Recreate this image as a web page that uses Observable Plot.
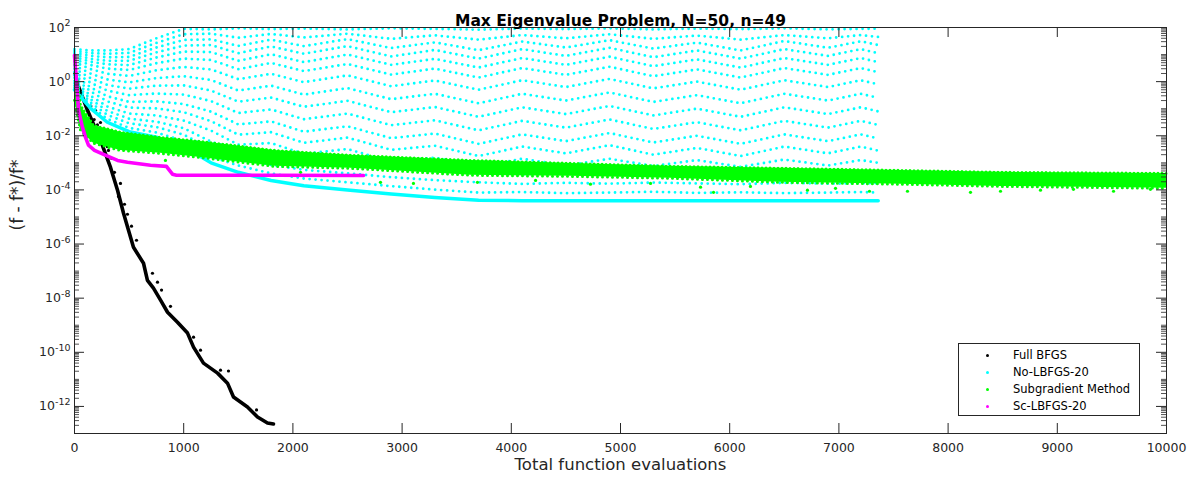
<!DOCTYPE html>
<html><head><meta charset="utf-8">
<script src="https://cdn.jsdelivr.net/npm/d3@7"></script>
<script src="https://cdn.jsdelivr.net/npm/@observablehq/plot@0.6"></script>
<style>
body{margin:0;background:#fff;font-family:"DejaVu Sans",sans-serif;}
#wrap{position:relative;width:1198px;height:485px;}
#legend{position:absolute;left:958px;top:343px;width:182px;height:73px;border:1px solid #262626;background:#fff;box-sizing:border-box;font-size:11.5px;color:#000;}
.item{position:absolute;left:0;width:100%;height:17px;}
.dot{position:absolute;left:27px;top:7px;width:3px;height:3px;border-radius:50%;}
.lab{position:absolute;left:54px;top:0;line-height:17px;white-space:nowrap;}
</style></head><body><div id="wrap"><div id="legend"></div></div>
<script>
// ---------- data (x = total function evaluations, values as log10 of (f-f*)/f*) ----------
const titleText = "Max Eigenvalue Problem, N=50, n=49";
const xLabel = "Total function evaluations";
const yLabel = "(f - f*)/f*";
const seriesNames = ["Full BFGS", "No-LBFGS-20", "Subgradient Method", "Sc-LBFGS-20"];
const seriesColors = ["#000000", "#00ffff", "#00ff00", "#ff00ff"];
const xTicks = [0, 1000, 2000, 3000, 4000, 5000, 6000, 7000, 8000, 9000, 10000];
const yTickExps = [2, 0, -2, -4, -6, -8, -10, -12];

// Full BFGS (black)
const bfgsEvals = [5, 27, 119, 238, 330, 394, 449, 540, 632, 668, 723, 788, 852, 943, 1035, 1090, 1181, 1310, 1401, 1456, 1584, 1676, 1767, 1822];
const bfgsExp   = [0.3, -0.07, -1.06, -2.17, -3.17, -4.01, -4.86, -6.12, -6.71, -7.34, -7.63, -8.07, -8.52, -8.89, -9.29, -9.81, -10.40, -10.77, -11.14, -11.65, -12.02, -12.39, -12.61, -12.65];
const bfgsOutEvals = [192, 238, 275, 266, 311, 339, 366, 421, 403, 458, 485, 522, 568, 714, 760, 797, 879, 1090, 1154, 1337, 1410, 1667, 150, 210, 180, 250, 300];
const bfgsOutExp   = [-1.06, -1.51, -1.87, -2.24, -2.54, -2.83, -3.35, -3.76, -4.24, -4.53, -4.90, -5.34, -5.86, -7.08, -7.41, -7.70, -8.30, -9.44, -9.92, -10.66, -10.69, -12.13, -0.9, -1.6, -1.4, -2.0, -2.4];

// Sc-LBFGS-20 (magenta)
const scEvals = [0, 9, 27, 37, 73, 101, 128, 183, 266, 394, 485, 696, 842, 870, 897, 934, 1832, 2647];
const scExp   = [0.97, 0.49, -0.44, -1.06, -1.69, -2.06, -2.35, -2.54, -2.69, -2.91, -2.98, -3.09, -3.13, -3.28, -3.42, -3.46, -3.46, -3.47];

// Subgradient method (green): band of points, upper and lower edge
const subEvals  = [0, 55, 174, 421, 788, 1154, 1832, 2527, 3626, 4542, 5458, 6465, 7564, 8480, 10000];
const subTopExp = [0.78, -0.88, -1.62, -1.87, -2.06, -2.21, -2.54, -2.72, -2.91, -3.02, -3.13, -3.20, -3.28, -3.35, -3.39];
const subBotExp = [-0.69, -1.80, -2.28, -2.54, -2.65, -2.80, -3.13, -3.20, -3.46, -3.50, -3.57, -3.72, -3.79, -3.87, -3.94];
const subOutEvals = [833, 2070, 2802, 3104, 3690, 4222, 4725, 5275, 5733, 5852, 6190, 6712, 6969, 7280, 7628, 8205, 8480, 8846, 9148, 9515, 9853];
const subOutExp   = [-2.91, -3.35, -3.72, -3.76, -3.72, -3.65, -3.79, -3.76, -3.90, -4.09, -3.87, -4.01, -3.94, -4.05, -4.05, -4.09, -4.05, -4.01, -3.98, -4.05, -3.98];

// No-LBFGS-20 (cyan): rows of trial points read at these evaluation counts
const noEvals = [0, 150, 300, 500, 750, 1000, 1250, 1500, 1800, 2100, 2500, 2900, 3300, 3700, 4100, 4500, 4900, 5300, 5700, 6100, 6500, 6900, 7200, 7360];
const noLowerExp = [-0.3, -1.0, -1.5, -1.85, -2.05, -2.4, -3.0, -3.35, -3.65, -3.85, -4.0, -4.15, -4.28, -4.38, -4.4, -4.4, -4.4, -4.4, -4.4, -4.4, -4.4, -4.4, -4.4, -4.4];
const noRowsExp = [
  [1.2, 1.15, 1.15, 1.2, 1.6, 1.95, 1.93, 1.97, 1.94, 1.96, 1.93, 1.97, 1.95, 1.92, 1.96, 1.94, 1.97, 1.93, 1.96, 1.94, 1.97, 1.93, 1.95, 1.96],
  [1.13, 1.05, 1.03, 1.06, 1.43, 1.75, 1.77, 1.62, 1.76, 1.63, 1.77, 1.58, 1.71, 1.55, 1.72, 1.60, 1.75, 1.58, 1.70, 1.55, 1.72, 1.60, 1.72, 1.65],
  [1.06, 0.95, 0.90, 0.91, 1.26, 1.54, 1.56, 1.32, 1.55, 1.31, 1.57, 1.24, 1.45, 1.16, 1.48, 1.26, 1.53, 1.22, 1.44, 1.15, 1.50, 1.25, 1.49, 1.35],
  [0.99, 0.84, 0.77, 0.77, 1.08, 1.33, 1.35, 1.05, 1.30, 1.03, 1.31, 0.93, 1.17, 0.85, 1.20, 0.95, 1.25, 0.90, 1.15, 0.85, 1.20, 0.95, 1.20, 1.05],
  [0.91, 0.73, 0.64, 0.61, 0.89, 1.11, 1.09, 0.77, 1.01, 0.72, 1.00, 0.62, 0.84, 0.52, 0.87, 0.62, 0.92, 0.57, 0.82, 0.52, 0.87, 0.62, 0.87, 0.72],
  [0.82, 0.61, 0.48, 0.43, 0.68, 0.85, 0.80, 0.46, 0.69, 0.39, 0.65, 0.26, 0.48, 0.15, 0.50, 0.25, 0.55, 0.20, 0.45, 0.15, 0.50, 0.25, 0.50, 0.35],
  [0.72, 0.46, 0.29, 0.21, 0.42, 0.54, 0.45, 0.09, 0.29, -0.02, 0.23, -0.17, 0.04, -0.30, 0.05, -0.20, 0.10, -0.25, 0.00, -0.30, 0.05, -0.20, 0.05, -0.10],
  [0.60, 0.29, 0.08, -0.03, 0.13, 0.20, 0.06, -0.33, -0.15, -0.48, -0.24, -0.65, -0.45, -0.80, -0.45, -0.70, -0.40, -0.75, -0.50, -0.80, -0.45, -0.70, -0.45, -0.60],
  [0.48, 0.12, -0.12, -0.26, -0.15, -0.14, -0.33, -0.74, -0.59, -0.93, -0.71, -1.13, -0.94, -1.30, -0.95, -1.20, -0.90, -1.25, -1.00, -1.30, -0.95, -1.20, -0.95, -1.10],
  [0.36, -0.05, -0.33, -0.50, -0.44, -0.48, -0.72, -1.16, -1.03, -1.39, -1.18, -1.61, -1.43, -1.80, -1.45, -1.70, -1.40, -1.75, -1.50, -1.80, -1.45, -1.70, -1.45, -1.60],
  [0.24, -0.22, -0.54, -0.75, -0.73, -0.83, -1.11, -1.58, -1.47, -1.85, -1.65, -2.09, -1.92, -2.30, -1.95, -2.20, -1.90, -2.25, -2.00, -2.30, -1.95, -2.20, -1.95, -2.10],
  [0.14, -0.37, -0.73, -0.96, -0.99, -1.13, -1.46, -1.96, -1.87, -2.26, -2.07, -2.52, -2.37, -2.75, -2.40, -2.65, -2.35, -2.70, -2.45, -2.75, -2.40, -2.65, -2.40, -2.55],
  [0.03, -0.53, -0.92, -1.18, -1.25, -1.44, -1.81, -2.33, -2.27, -2.67, -2.49, -2.96, -2.81, -3.15, -2.85, -3.10, -2.85, -3.12, -2.90, -3.15, -2.88, -3.10, -2.90, -3.00],
  [-0.06, -0.66, -1.08, -1.37, -1.48, -1.72, -2.22, -2.52, -2.77, -2.94, -3.07, -3.19, -3.30, -3.38, -3.42, -3.36, -3.44, -3.40, -3.35, -3.43, -3.38, -3.45, -3.40, -3.40],
  [-0.15, -0.78, -1.23, -1.54, -1.68, -1.96, -2.50, -2.81, -3.08, -3.26, -3.39, -3.53, -3.64, -3.72, -3.78, -3.74, -3.77, -3.73, -3.76, -3.79, -3.74, -3.77, -3.75, -3.75],
  [-0.23, -0.90, -1.38, -1.71, -1.88, -2.20, -2.77, -3.10, -3.39, -3.58, -3.72, -3.86, -3.99, -4.10, -4.08, -4.12, -4.10, -4.07, -4.11, -4.09, -4.12, -4.10, -4.08, -4.10]
];

// ---------- build tables ----------
const pts = (xs, es) => xs.map((x, i) => ({x, y: Math.pow(10, es[i])}));
const bfgs = pts(bfgsEvals, bfgsExp);
const bfgsOut = pts(bfgsOutEvals, bfgsOutExp);
const sc = pts(scEvals, scExp);
const sub = subEvals.map((x, i) => ({x, y1: Math.pow(10, subTopExp[i]), y2: Math.pow(10, subBotExp[i])}));
const subTop = pts(subEvals, subTopExp);
const subBot = pts(subEvals, subBotExp);
const subOut = pts(subOutEvals, subOutExp);
const noLower = pts(noEvals, noLowerExp);
const noRows = noRowsExp.flatMap((row, r) => row.map((e, i) => ({x: noEvals[i], y: Math.pow(10, e), row: r})));

const yMajor = yTickExps.map(e => Math.pow(10, e));
const yMinor = [];
for (let k = -13; k <= 1; k++) for (let m = 1; m <= 9; m++) {
  if (m === 1 && k % 2 === 0) continue;
  const v = m * Math.pow(10, k);
  if (v >= 1e-13 && v <= 100) yMinor.push(v);
}

const W = 1198, H = 485, mL = 74, mR = 32, mT = 27, mB = 52;
const pw = W - mL - mR, ph = H - mT - mB;
const axisCol = "#262626";

const chart = Plot.plot({
  width: W, height: H,
  marginLeft: mL, marginRight: mR, marginTop: mT, marginBottom: mB,
  style: {fontFamily: "'DejaVu Sans', sans-serif", background: "#fff", overflow: "visible"},
  x: {domain: [0, 10000], axis: null},
  y: {type: "log", domain: [1e-13, 1e2], axis: null},
  marks: [
    // black
    Plot.line(bfgs, {x: "x", y: "y", stroke: seriesColors[0], strokeWidth: 3.6, strokeLinejoin: "round"}),
    Plot.dot(bfgsOut, {x: "x", y: "y", r: 1.6, fill: seriesColors[0], stroke: null}),
    // cyan
    Plot.line(noRows, {x: "x", y: "y", z: "row", stroke: seriesColors[1], strokeWidth: 2.8, strokeDasharray: "0 6", strokeLinecap: "round"}),
    Plot.line(noLower, {x: "x", y: "y", stroke: seriesColors[1], strokeWidth: 3.5}),
    // green
    Plot.areaY(sub, {x: "x", y1: "y1", y2: "y2", fill: seriesColors[2]}),
    Plot.line(subTop, {x: "x", y: "y", stroke: seriesColors[2], strokeWidth: 3, strokeDasharray: "0 4", strokeLinecap: "round"}),
    Plot.line(subBot, {x: "x", y: "y", stroke: seriesColors[2], strokeWidth: 3, strokeDasharray: "0 5", strokeLinecap: "round"}),
    Plot.dot(subOut, {x: "x", y: "y", r: 1.6, fill: seriesColors[2], stroke: null}),
    // magenta
    Plot.line(sc, {x: "x", y: "y", stroke: seriesColors[3], strokeWidth: 3.6, strokeLinejoin: "round"}),
    // frame and inward ticks
    Plot.frame({stroke: axisCol, strokeWidth: 1}),
    Plot.tickX(xTicks, {x: d => d, stroke: axisCol, insetTop: ph - 10}),
    Plot.tickX(xTicks, {x: d => d, stroke: axisCol, insetBottom: ph - 10}),
    Plot.tickY(yMajor, {y: d => d, stroke: axisCol, insetRight: pw - 10}),
    Plot.tickY(yMajor, {y: d => d, stroke: axisCol, insetLeft: pw - 10}),
    Plot.tickY(yMinor, {y: d => d, stroke: axisCol, strokeWidth: 0.8, insetRight: pw - 5}),
    Plot.tickY(yMinor, {y: d => d, stroke: axisCol, strokeWidth: 0.8, insetLeft: pw - 5}),
    // tick labels
    Plot.axisX(xTicks, {tickSize: 0, tickPadding: 10, fontSize: 12.5, color: axisCol, tickFormat: d => String(d), label: null}),
    Plot.axisY(yMajor, {tickSize: 0, tickPadding: 11, fontSize: 12.5, color: axisCol, tickFormat: d => "10^" + Math.round(Math.log10(d)), label: null}),
    // titles
    Plot.text([titleText], {frameAnchor: "top", dy: -13, fontSize: 15.5, fontWeight: "bold", fill: "#000"}),
    Plot.text([xLabel], {frameAnchor: "bottom", dy: 36, fontSize: 16.5, fill: axisCol}),
    Plot.text([yLabel], {frameAnchor: "left", dx: -57, rotate: -90, fontSize: 17, fill: axisCol})
  ]
});

// superscript exponents on log tick labels
chart.querySelectorAll("text").forEach(t => {
  const m = /^10\^(-?\d+)$/.exec(t.textContent);
  if (!m) return;
  t.textContent = "";
  const ns = "http://www.w3.org/2000/svg";
  const a = document.createElementNS(ns, "tspan"); a.textContent = "10";
  const b = document.createElementNS(ns, "tspan"); b.textContent = m[1];
  b.setAttribute("dy", "-0.55em"); b.setAttribute("font-size", "9.5");
  t.appendChild(a); t.appendChild(b);
  t.setAttribute("dx", "7");
});

document.getElementById("wrap").prepend(chart);

// legend
const leg = document.getElementById("legend");
seriesNames.forEach((name, i) => {
  const it = document.createElement("div");
  it.className = "item"; it.style.top = (3 + i * 17) + "px";
  const d = document.createElement("div"); d.className = "dot"; d.style.background = seriesColors[i];
  const l = document.createElement("div"); l.className = "lab"; l.textContent = name;
  it.appendChild(d); it.appendChild(l); leg.appendChild(it);
});
</script></body></html>
